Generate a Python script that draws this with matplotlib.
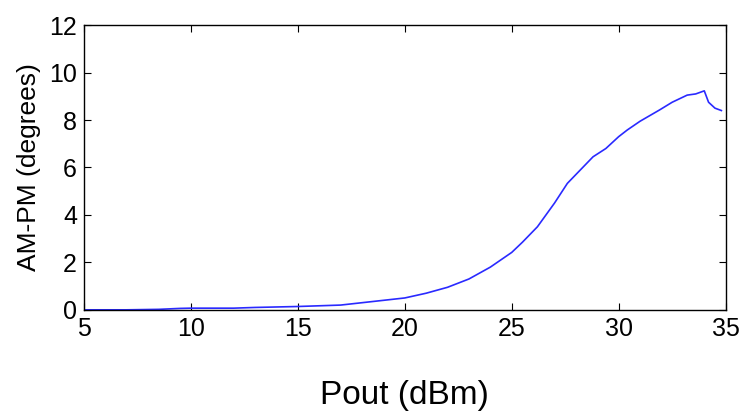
import matplotlib
matplotlib.use("Agg")
import matplotlib.pyplot as plt

# datos
pout = [5, 7, 8.5, 9.5, 10, 11, 12, 13, 14, 15, 16, 17, 18, 19, 20, 21, 22, 23, 24,
        25, 25.5, 26.2, 27, 27.6, 28.8, 29.4, 30, 30.4, 31, 31.9, 32.5, 33.2, 33.6, 34.0,
        34.2, 34.5, 34.8]
ampm = [0.0, 0.0, 0.02, 0.06, 0.07, 0.07, 0.07, 0.1, 0.12, 0.14, 0.17, 0.2, 0.3, 0.4,
        0.5, 0.7, 0.95, 1.3, 1.8, 2.42, 2.85, 3.5, 4.5, 5.33, 6.45, 6.8, 7.3, 7.58, 7.95,
        8.42, 8.75, 9.05, 9.1, 9.23, 8.75, 8.5, 8.4]

plt.rcParams['font.family'] = ['Liberation Sans', 'DejaVu Sans']

fig = plt.figure(figsize=(7.42, 4.12), dpi=100)
ax = fig.add_axes([0.113, 0.248, 0.865, 0.691])
ax.plot(pout, ampm, color='#2a2aff', linewidth=1.2)

ax.set_xlim(5, 35)
ax.set_ylim(0, 12)
ax.set_xticks([5, 10, 15, 20, 25, 30, 35])
ax.set_yticks([0, 2, 4, 6, 8, 10, 12])
ax.tick_params(direction='in', top=True, right=True, labelsize=18, length=5)
ax.tick_params(axis='x', pad=5)
ax.tick_params(axis='y', pad=5)
for s in ax.spines.values():
    s.set_linewidth(1.0)
ax.set_xlabel("Pout (dBm)", fontsize=24, labelpad=28)
ax.set_ylabel("AM-PM (degrees)", fontsize=19, labelpad=6)

fig.savefig("out.png", dpi=100)
